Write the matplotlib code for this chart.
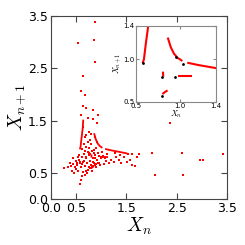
import numpy as np
import matplotlib
matplotlib.use('agg')
import matplotlib.pyplot as plt

plt.rcParams['mathtext.fontset'] = 'cm'

# scattered iterates (X_n, X_n+1)
pts_x = [0.87, 0.55, 0.86, 0.87, 0.65, 0.60, 0.69, 0.635, 0.70, 0.83, 0.60, 0.73, 0.93, 0.83,
         0.91, 2.36, 0.65, 0.75, 0.71, 0.79, 0.78, 0.68, 0.73, 0.88, 0.66, 0.80, 0.92, 0.70, 0.76,
         3.41, 3.02, 2.96, 2.60, 2.00, 2.07, 2.62, 1.76, 1.71, 1.61, 1.57, 1.67, 1.61, 1.51, 1.54,
         1.45, 1.40, 1.35, 1.30, 1.25, 1.20, 1.15, 1.10, 1.05, 1.12, 1.28, 1.38,
         0.26, 0.35, 0.40, 0.45, 0.50, 0.46, 0.50, 0.58, 0.60, 0.62, 0.55, 0.52, 0.56, 0.58, 0.62,
         0.60, 0.65, 0.64, 0.68, 0.66, 0.70, 0.72, 0.74, 0.76, 0.78, 0.80, 0.82, 0.84, 0.86, 0.88,
         0.90, 0.92, 0.94, 0.96, 0.98, 1.00, 1.02, 0.45, 0.42, 0.38, 0.70, 0.68, 0.72, 0.82, 0.75,
         0.63, 0.57, 0.54, 0.48, 0.86, 0.90, 0.74, 0.77, 0.79, 0.81, 0.84, 0.87, 0.90, 0.93, 0.67,
         0.71, 0.76, 0.83, 0.88, 0.95, 0.99, 1.04, 1.08, 0.62, 0.59, 0.53, 0.69, 0.78, 0.85]
pts_y = [3.38, 2.98, 3.03, 2.61, 2.35, 2.07, 1.99, 1.78, 1.74, 1.70, 1.61, 1.56, 1.61, 1.54,
         1.45, 1.45, 1.38, 1.29, 1.22, 1.24, 1.13, 1.18, 1.10, 1.18, 1.05, 1.05, 1.10, 1.00, 0.98,
         0.86, 0.76, 0.75, 0.88, 0.88, 0.46, 0.46, 0.86, 0.81, 0.86, 0.76, 0.63, 0.65, 0.72, 0.86,
         0.80, 0.70, 0.76, 0.80, 0.72, 0.76, 0.70, 0.74, 0.68, 0.86, 0.88, 0.85,
         0.59, 0.61, 0.64, 0.68, 0.73, 0.50, 0.58, 0.30, 0.37, 0.44, 0.55, 0.66, 0.76, 0.69, 0.80,
         0.62, 0.52, 0.72, 0.64, 0.86, 0.78, 0.70, 0.90, 0.62, 0.74, 0.66, 0.92, 0.78, 0.70, 0.84,
         0.62, 0.76, 0.88, 0.70, 0.66, 0.78, 0.90, 0.78, 0.55, 0.70, 0.55, 0.46, 0.50, 0.55, 0.84,
         0.96, 0.85, 0.80, 0.62, 0.95, 0.98, 0.57, 0.59, 0.60, 0.62, 0.64, 0.66, 0.68, 0.70, 0.74,
         0.80, 0.88, 0.72, 0.79, 0.83, 0.80, 0.82, 0.78, 0.67, 0.72, 0.70, 0.93, 0.86, 0.89]

# attractor branches (polyline vertices)
branches = [
    ([0.577, 0.592, 0.615, 0.637, 0.645], [0.955, 1.00, 1.20, 1.37, 1.52]),
    ([0.86, 0.895, 0.93, 0.969, 1.0, 1.024], [1.26, 1.144, 1.07, 1.02, 1.0, 0.982]),
    ([1.08, 1.2, 1.375, 1.52], [0.962, 0.935, 0.903, 0.875]),
    ([0.806, 0.81], [0.856, 0.796]),
    ([0.976, 1.135], [0.808, 0.808]),
    ([0.80, 0.83, 0.858], [0.59, 0.615, 0.634]),
]

# fixed points / periodic points shown in inset
fp_x = [0.577, 0.95, 1.028, 0.80, 0.94, 0.79]
fp_y = [0.955, 1.026, 0.943, 0.796, 0.796, 0.571]

fig = plt.figure(figsize=(2.45, 2.45), dpi=100)
ax = fig.add_axes([0.207, 0.186, 0.72, 0.75])
ax.scatter(pts_x, pts_y, s=1.5, c='red', marker='s', linewidths=0)
for bx, by in branches:
    ax.plot(bx, by, color='red', lw=1.3, solid_capstyle='butt')
ax.set_xlim(0, 3.5)
ax.set_ylim(0, 3.5)
ticks = [0.0, 0.5, 1.5, 2.5, 3.5]
ax.set_xticks(ticks)
ax.set_yticks(ticks)
ax.set_xticklabels(['0.0', '0.5', '1.5', '2.5', '3.5'])
ax.set_yticklabels(['0.0', '0.5', '1.5', '2.5', '3.5'])
ax.tick_params(direction='in', top=True, right=True, labelsize=9, length=4,
               color='#444444', pad=2)
for s in ax.spines.values():
    s.set_color('#444444')
ax.set_xlabel('$X_n$', fontsize=14, labelpad=0)
ax.set_ylabel('$X_{n+1}$', fontsize=14, labelpad=0)

ins = fig.add_axes([0.554, 0.585, 0.3265, 0.31])
for bx, by in branches:
    ins.plot(bx, by, color='red', lw=1.5, solid_capstyle='butt')
ins.scatter(fp_x, fp_y, s=4, c='black', zorder=3, linewidths=0)
ins.set_xlim(0.5, 1.4)
ins.set_ylim(0.5, 1.4)
ins.set_xticks([0.5, 1.0, 1.4])
ins.set_yticks([0.5, 1.0, 1.4])
ins.set_xticklabels(['0.5', '1.0', '1.4'])
ins.set_yticklabels(['0.5', '1.0', '1.4'])
ins.tick_params(direction='in', top=True, right=True, labelsize=5, length=2,
                color='#888888', pad=1)
for s in ins.spines.values():
    s.set_color('#888888')
ins.set_xlabel('$X_n$', fontsize=6, labelpad=0)
ins.set_ylabel('$X_{n+1}$', fontsize=6, labelpad=0)

fig.savefig('out.png', dpi=100)
